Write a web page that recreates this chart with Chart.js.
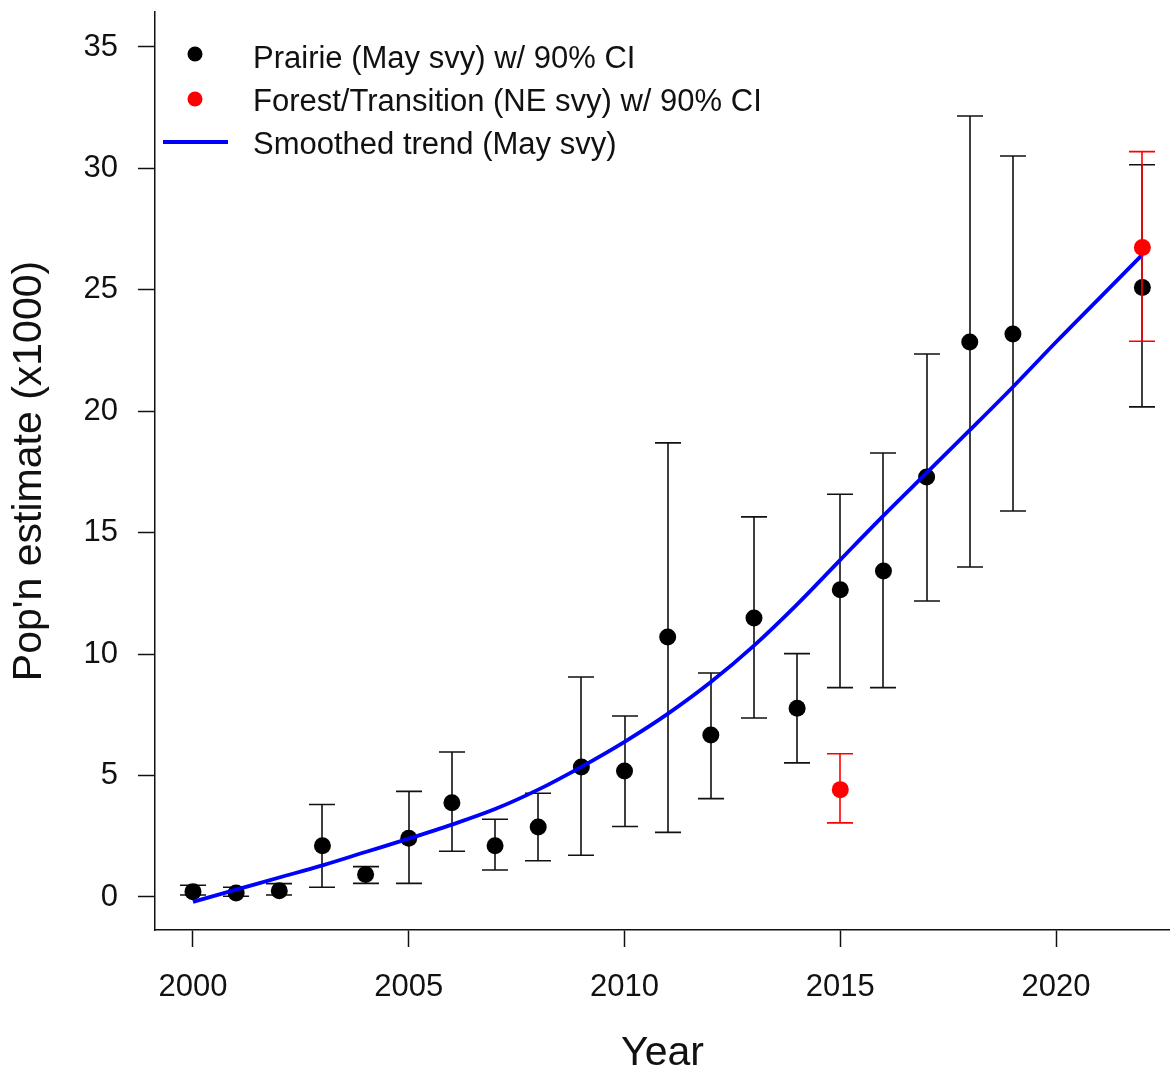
<!DOCTYPE html>
<html>
<head>
<meta charset="utf-8">
<script src="https://cdn.jsdelivr.net/npm/chart.js@4.4.1/dist/chart.umd.min.js"></script>
<style>
  html, body { margin: 0; padding: 0; background: #fff; }
  #wrap { width: 1170px; height: 1074px; }
</style>
</head>
<body>
<div id="wrap"><canvas id="c" width="1170" height="1074"></canvas></div>
<script>
// Prairie (May survey) estimates with 90% confidence limits, thousands
const prairieYears = [2000, 2001, 2002, 2003, 2004, 2005, 2006, 2007, 2008, 2009, 2010,
                      2011, 2012, 2013, 2014, 2015, 2016, 2017, 2018, 2019, 2022];
const prairieEst   = [0.22, 0.16, 0.26, 2.11, 0.93, 2.42, 3.88, 2.11, 2.88, 5.35, 5.19,
                      10.70, 6.67, 11.49, 7.77, 12.65, 13.42, 17.29, 22.85, 23.18, 25.10];
const prairieLo    = [0.08, 0.03, 0.08, 0.40, 0.56, 0.56, 1.88, 1.11, 1.49, 1.72, 2.90,
                      2.66, 4.05, 7.37, 5.52, 8.62, 8.62, 12.19, 13.59, 15.89, 20.18];
const prairieHi    = [0.48, 0.40, 0.55, 3.81, 1.25, 4.35, 5.97, 3.20, 4.27, 9.06, 7.45,
                      18.70, 9.22, 15.65, 10.02, 16.58, 18.28, 22.36, 32.16, 30.51, 30.15];

// Forest/Transition (NE survey) estimates with 90% confidence limits
const forestYears = [2015, 2022];
const forestEst   = [4.42, 26.74];
const forestLo    = [3.05, 22.88];
const forestHi    = [5.90, 30.69];

// Smoothed trend of the May survey
const trendYears  = [2000, 2001, 2002, 2003, 2004, 2005, 2006, 2007, 2008, 2009, 2010, 2011,
                     2012, 2013, 2014, 2015, 2016, 2017, 2018, 2019, 2020, 2021, 2022];
const trendValues = [-0.20, 0.30, 0.80, 1.30, 1.85, 2.40, 2.98, 3.62, 4.42, 5.36, 6.39, 7.54,
                     8.85, 10.35, 12.05, 13.88, 15.70, 17.46, 19.22, 21.00, 22.85, 24.65, 26.45];

const xTicks = [2000, 2005, 2010, 2015, 2020];
const yTicks = [0, 5, 10, 15, 20, 25, 30, 35];

const legendLabels = [
  'Prairie (May svy) w/ 90% CI',
  'Forest/Transition (NE svy) w/ 90% CI',
  'Smoothed trend (May svy)'
];

const FONT = "'Liberation Sans', Arial, sans-serif";
const INK = '#111111';

const pts = (xs, ys) => xs.map((v, i) => ({ x: v, y: ys[i] }));

// Fixed axis box sizes, no extra room for overhanging labels
const fixBox = size => s => {
  if (s.isHorizontal()) s.height = size; else s.width = size;
  s.paddingTop = 0; s.paddingBottom = 0; s.paddingLeft = 0; s.paddingRight = 0;
};

// Vertical interval bars with end caps, drawn before the points of the same series
const errorBars = {
  id: 'errorBars',
  beforeDatasetDraw(chart, args) {
    const ds = chart.data.datasets[args.index];
    if (!ds.intervals) return;
    const { ctx, scales: { x, y } } = chart;
    const { years, lo, hi } = ds.intervals;
    const cap = 13;
    ctx.save();
    ctx.strokeStyle = ds.intervalColor;
    ctx.lineWidth = 1.6;
    years.forEach((yr, i) => {
      const px = Math.round(x.getPixelForValue(yr));
      const pl = y.getPixelForValue(lo[i]);
      const ph = y.getPixelForValue(hi[i]);
      ctx.beginPath();
      ctx.moveTo(px, pl); ctx.lineTo(px, ph);
      ctx.moveTo(px - cap, pl); ctx.lineTo(px + cap, pl);
      ctx.moveTo(px - cap, ph); ctx.lineTo(px + cap, ph);
      ctx.stroke();
    });
    ctx.restore();
  }
};

// Key in the upper-left corner of the plotting area
const keyBox = {
  id: 'keyBox',
  afterDatasetsDraw(chart) {
    const { ctx } = chart;
    ctx.save();
    ctx.fillStyle = '#000000';
    ctx.beginPath(); ctx.arc(195, 54, 7.5, 0, Math.PI * 2); ctx.fill();
    ctx.fillStyle = '#ff0000';
    ctx.beginPath(); ctx.arc(195, 99, 7.5, 0, Math.PI * 2); ctx.fill();
    ctx.strokeStyle = '#0000ff';
    ctx.lineWidth = 4;
    ctx.beginPath(); ctx.moveTo(163, 142); ctx.lineTo(228, 142); ctx.stroke();
    ctx.fillStyle = INK;
    ctx.font = '31px ' + FONT;
    ctx.textBaseline = 'alphabetic';
    ctx.textAlign = 'left';
    [68, 111, 154].forEach((by, i) => ctx.fillText(legendLabels[i], 253, by));
    ctx.restore();
  }
};

new Chart(document.getElementById('c'), {
  type: 'scatter',
  data: {
    datasets: [
      {
        label: legendLabels[0],
        data: pts(prairieYears, prairieEst),
        pointRadius: 8.5,
        pointBackgroundColor: '#000000',
        pointBorderWidth: 0,
        intervals: { years: prairieYears, lo: prairieLo, hi: prairieHi },
        intervalColor: INK,
        order: 3
      },
      {
        label: legendLabels[2],
        type: 'line',
        data: pts(trendYears, trendValues),
        borderColor: '#0000ff',
        borderWidth: 3.8,
        pointRadius: 0,
        fill: false,
        cubicInterpolationMode: 'monotone',
        order: 2
      },
      {
        label: legendLabels[1],
        data: pts(forestYears, forestEst),
        pointRadius: 8.5,
        pointBackgroundColor: '#ff0000',
        pointBorderWidth: 0,
        intervals: { years: forestYears, lo: forestLo, hi: forestHi },
        intervalColor: '#ff0000',
        order: 1
      }
    ]
  },
  options: {
    responsive: false,
    animation: false,
    devicePixelRatio: 1,
    layout: { autoPadding: false, padding: { top: 12, right: 0, left: 0, bottom: 0 } },
    plugins: { legend: { display: false }, tooltip: { enabled: false } },
    scales: {
      x: {
        type: 'linear',
        min: 1999.12,
        max: 2022.64,
        afterBuildTicks: s => { s.ticks = xTicks.map(v => ({ value: v })); },
        afterFit: fixBox(144),
        ticks: {
          autoSkip: false, maxRotation: 0, padding: 22, color: INK,
          font: { family: FONT, size: 31 },
          callback: v => String(v)
        },
        grid: { display: true, drawOnChartArea: false, drawTicks: true, tickLength: 17, tickWidth: 1.5, color: INK },
        border: { display: true, color: INK, width: 1.5 },
        title: {
          display: true, text: 'Year', color: INK,
          font: { family: FONT, size: 41, lineHeight: 1 },
          padding: { top: 0, bottom: 0 }
        }
      },
      y: {
        type: 'linear',
        min: -1.36,
        max: 36.44,
        afterBuildTicks: s => { s.ticks = yTicks.map(v => ({ value: v })); },
        afterFit: fixBox(155),
        ticks: {
          autoSkip: false, padding: 20, color: INK,
          font: { family: FONT, size: 31 },
          callback: v => String(v)
        },
        grid: { display: true, drawOnChartArea: false, drawTicks: true, tickLength: 17, tickWidth: 1.5, color: INK },
        border: { display: true, color: INK, width: 1.5 },
        title: {
          display: true, text: "Pop'n estimate (x1000)", color: INK,
          font: { family: FONT, size: 41, lineHeight: 1 },
          padding: { top: 9, bottom: 0 }
        }
      }
    }
  },
  plugins: [errorBars, keyBox]
});
</script>
</body>
</html>
